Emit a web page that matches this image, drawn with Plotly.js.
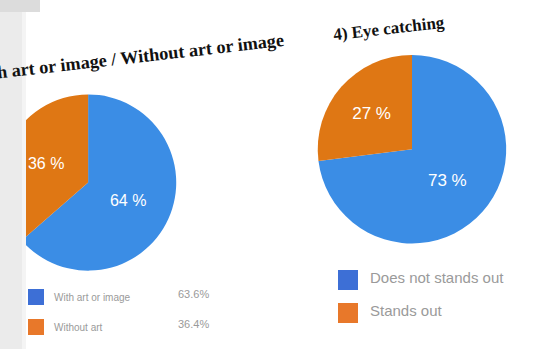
<!DOCTYPE html>
<html>
<head>
<meta charset="utf-8">
<script src="https://cdn.plot.ly/plotly-3.0.1.min.js"></script>
<style>html,body{margin:0;padding:0;background:#fff;}#chart{width:534px;height:349px;}</style>
</head>
<body>
<div id="chart"></div>
<script>
// Chart 3: with / without art or image
const artLabels = ["With art or image", "Without art"];
const artValues = [63.6, 36.4];
// Chart 4: eye catching
const eyeLabels = ["Does not stands out", "Stands out"];
const eyeValues = [73, 27];

const titleArt = "3) With art or image / Without art or image";
const titleEye = "4) Eye catching";

const pieBlue = "#3b8de5";
const pieOrange = "#df7714";
const legBlue = "#3d6fd6";
const legOrange = "#e8782a";

const traces = [
  {
    type: "pie", labels: artLabels, values: artValues, sort: false, direction: "clockwise", rotation: 0,
    marker: {colors: [pieBlue, pieOrange], line: {width: 0}},
    texttemplate: "%{value:.0f} %", textposition: "inside", insidetextorientation: "horizontal",
    textfont: {family: "Liberation Sans, Arial, sans-serif", size: 16, color: "#ffffff"},
    domain: {x: [0, 0.33], y: [0.212, 0.742]},
    showlegend: false, hoverinfo: "label+percent"
  },
  {
    type: "pie", labels: eyeLabels, values: eyeValues, sort: false, direction: "clockwise", rotation: 0,
    marker: {colors: [pieBlue, pieOrange], line: {width: 0}},
    texttemplate: "%{value:.0f} %", textposition: "inside", insidetextorientation: "horizontal",
    textfont: {family: "Liberation Sans, Arial, sans-serif", size: 17, color: "#ffffff"},
    domain: {x: [0.595, 0.948], y: [0.29, 0.855]},
    showlegend: false, hoverinfo: "label+percent"
  }
];

const shapes = [];
// gray page edge on the left, drawn over the pie
shapes.push({type: "rect", xref: "paper", yref: "paper", x0: 0, x1: 22/534, y0: 0, y1: 1,
  fillcolor: "#ebebeb", line: {width: 0}, layer: "above"});
shapes.push({type: "rect", xref: "paper", yref: "paper", x0: 22/534, x1: 26/534, y0: 0, y1: 1,
  fillcolor: "#f4f4f4", line: {width: 0}, layer: "above"});
shapes.push({type: "rect", xref: "paper", yref: "paper", x0: 0, x1: 40/534, y0: 1 - 12/349, y1: 1,
  fillcolor: "#dcdcdc", line: {width: 0}, layer: "above"});

const annotations = [
  {text: "<b>" + titleArt + "</b>", xref: "paper", yref: "paper", x: 287/534, y: 1 - 60/349,
   xanchor: "right", yanchor: "middle", showarrow: false, textangle: -6.5,
   font: {family: "Liberation Serif, Times New Roman, serif", size: 18.2, color: "#111"}},
  {text: "<b>" + titleEye + "</b>", xref: "paper", yref: "paper", x: 389/534, y: 1 - 28/349,
   xanchor: "center", yanchor: "middle", showarrow: false, textangle: -6.5,
   font: {family: "Liberation Serif, Times New Roman, serif", size: 17, color: "#111"}}
];
const legColors = [legBlue, legOrange];
// left legend
artLabels.forEach((lab, i) => {
  const yc = 297 + i * 30;
  shapes.push({type: "rect", xref: "paper", yref: "paper", x0: 28/534, x1: 44/534,
    y0: 1 - (yc + 8)/349, y1: 1 - (yc - 8)/349, fillcolor: legColors[i], line: {width: 0}, layer: "above"});
  annotations.push({text: lab, xref: "paper", yref: "paper", x: 52/534, y: 1 - yc/349,
    xanchor: "left", yanchor: "middle", showarrow: false,
    font: {family: "Liberation Sans, Arial, sans-serif", size: 10, color: "#9a9a9a"}});
  annotations.push({text: artValues[i].toFixed(1) + "%", xref: "paper", yref: "paper", x: 176/534, y: 1 - (yc - 3)/349,
    xanchor: "left", yanchor: "middle", showarrow: false,
    font: {family: "Liberation Sans, Arial, sans-serif", size: 11, color: "#9a9a9a"}});
});
// right legend
eyeLabels.forEach((lab, i) => {
  const yc = 280 + i * 33;
  shapes.push({type: "rect", xref: "paper", yref: "paper", x0: 338/534, x1: 358/534,
    y0: 1 - (yc + 10)/349, y1: 1 - (yc - 10)/349, fillcolor: legColors[i], line: {width: 0}, layer: "above"});
  annotations.push({text: lab, xref: "paper", yref: "paper", x: 368/534, y: 1 - (yc - 3)/349,
    xanchor: "left", yanchor: "middle", showarrow: false,
    font: {family: "Liberation Sans, Arial, sans-serif", size: 15, color: "#9a9a9a"}});
});

const layout = {
  width: 534, height: 349, margin: {l: 0, r: 0, t: 0, b: 0},
  paper_bgcolor: "#ffffff", showlegend: false,
  annotations: annotations, shapes: shapes
};
Plotly.newPlot("chart", traces, layout, {displayModeBar: false, staticPlot: true});
</script>
</body>
</html>
